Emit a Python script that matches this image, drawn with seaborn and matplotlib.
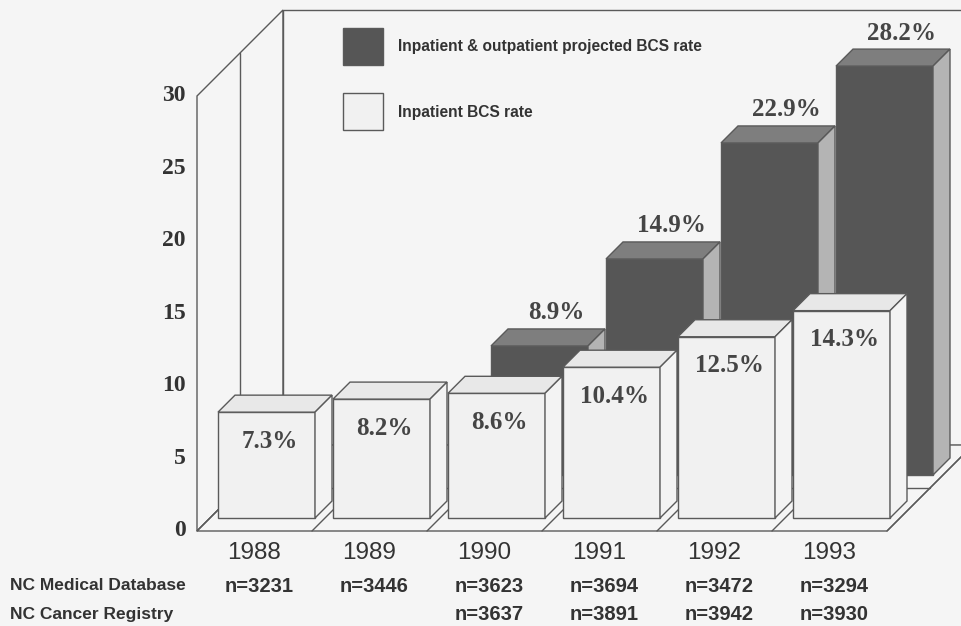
import numpy as np
import pandas as pd
import matplotlib
matplotlib.use("Agg")
import matplotlib.pyplot as plt
from matplotlib.patches import Polygon, Rectangle
from matplotlib.transforms import blended_transform_factory
import seaborn as sns

# --- DATA ---
years = ["1988", "1989", "1990", "1991", "1992", "1993"]
inpatient = [7.3, 8.2, 8.6, 10.4, 12.5, 14.3]
projected = [np.nan, np.nan, 8.9, 14.9, 22.9, 28.2]
n_medical = ["n=3231", "n=3446", "n=3623", "n=3694", "n=3472", "n=3294"]
n_registry = ["", "", "n=3637", "n=3891", "n=3942", "n=3930"]
y_ticks = [0, 5, 10, 15, 20, 25, 30]
row_labels = ["NC Medical Database", "NC Cancer Registry"]
legend_labels = ["Inpatient & outpatient projected BCS rate", "Inpatient BCS rate"]

df = pd.DataFrame({"year": years, "inpatient": inpatient, "projected": projected})

# --- LAYOUT (canvas pixels) ---
W, H = 962, 626
PX_X = 115.0      # pixels per year slot
PX_Y = 14.5       # pixels per percentage point
X0, Y0 = 197, 531 # floor front-left corner
ROW = 43          # depth of one row of boxes
BOX_OFF = 13      # box front face depth inside its row
BOX_D = 17        # box depth
BAR_W = 97 / PX_X
GAP = 8 / PX_X
YMAX = 30
ROW_Y = [586, 614]  # table rows

BG = "#f5f5f5"
EDGE = "#5a5a5a"
TXT = "#333333"
LIGHT = {"front": "#f1f1f1", "top": "#e8e8e8", "side": "#f3f3f3"}
DARK = {"front": "#565656", "top": "#7e7e7e", "side": "#b4b4b4"}

sns.set_style("white")
plt.rcParams["font.family"] = ["Liberation Sans", "DejaVu Sans"]

fig = plt.figure(figsize=(W / 100, H / 100), dpi=100, facecolor=BG)
ax = fig.add_axes([0, 0, 1, 1])
ax.set_facecolor(BG)


def P(x, v, d):
    """project (slot x, value, depth in px) to data coords"""
    return (x + d / PX_X, v + d / PX_Y)


def poly(pts, fc, z, lw=1.0):
    ax.add_patch(Polygon(pts, closed=True, facecolor=fc, edgecolor=EDGE,
                         linewidth=lw, zorder=z, joinstyle="miter"))


def line(p1, p2, z=1):
    ax.plot([p1[0], p2[0]], [p1[1], p2[1]], color=EDGE, lw=1.0, zorder=z)


n = len(years)
left, right = -0.5, n - 0.5
depth = 2 * ROW

# --- walls and floor ---
poly([P(left, 0, 0), P(left, YMAX, 0), P(left, YMAX, depth), P(left, 0, depth)], BG, 1)
poly([P(left, 0, depth), P(left, YMAX, depth), P(right + 1, YMAX, depth), P(right + 1, 0, depth)], BG, 1)
poly([P(left, 0, 0), P(right, 0, 0), P(right, 0, depth), P(left, 0, depth)], BG, 1)
line(P(left, 0, ROW), P(left, YMAX, ROW))
line(P(left, 0, ROW), P(right, 0, ROW))
for i in range(n + 1):
    line(P(i - 0.5, 0, 0), P(i - 0.5, 0, depth))


# --- boxes ---
def draw_row(values, row, colors, z):
    d0 = row * ROW + BOX_OFF
    centers = np.arange(n) - 0.5 + GAP + BAR_W / 2
    vals = np.asarray(values, dtype=float)
    mask = ~np.isnan(vals)
    xs = centers[mask] + d0 / PX_X
    vs = vals[mask]
    sns.barplot(x=xs, y=vs, native_scale=True, orient="x", width=BAR_W,
                bottom=d0 / PX_Y, color=colors["front"], saturation=1,
                edgecolor=EDGE, linewidth=1.0, errorbar=None, ax=ax, zorder=z)
    for c, v in zip(centers[mask], vs):
        xl, xr = c - BAR_W / 2, c + BAR_W / 2
        poly([P(xl, v, d0), P(xr, v, d0), P(xr, v, d0 + BOX_D), P(xl, v, d0 + BOX_D)],
             colors["top"], z)
        poly([P(xr, 0, d0), P(xr, v, d0), P(xr, v, d0 + BOX_D), P(xr, 0, d0 + BOX_D)],
             colors["side"], z)
    return centers[mask], vs, d0


bc, bv, bd = draw_row(projected, 1, DARK, 2)
fc, fv, fd = draw_row(inpatient, 0, LIGHT, 3)

# value labels
lab_kw = dict(textcoords="offset pixels", ha="center", va="center", fontsize=18,
              fontweight="bold", color="#454545", family="Liberation Serif", zorder=6)
for c, v in zip(bc, bv):
    ax.annotate(f"{v:.1f}%", xy=P(c, v, bd + BOX_D), xytext=(0, 16), **lab_kw)
for c, v in zip(fc, fv):
    ax.annotate(f"{v:.1f}%", xy=P(c, v, fd), xytext=(3, -29), **lab_kw)

# y axis labels on the front plane
for t in y_ticks:
    ax.annotate(str(t), xy=(left, t), xytext=(-11, 0), textcoords="offset pixels",
                ha="right", va="center", fontsize=17, fontweight="bold",
                color=TXT, family="Liberation Serif")

ax.set_xlim(left - X0 / PX_X, left + (W - X0) / PX_X)
ax.set_ylim(-(H - Y0) / PX_Y, Y0 / PX_Y)
ax.axis("off")

# --- year / count table ---
tr = blended_transform_factory(ax.transData, fig.transFigure)
for i, yr in enumerate(years):
    xl = i - 0.5 + GAP + (BOX_OFF + 9) / PX_X
    ax.text(xl, 1 - 553 / H, yr, transform=tr, ha="left", va="center",
            fontsize=17.5, color=TXT)
    for counts, ry in zip([n_medical, n_registry], ROW_Y):
        ax.text(xl - 2 / PX_X, 1 - ry / H, counts[i], transform=tr, ha="left",
                va="center", fontsize=14.5, fontweight="bold", color=TXT)
for lab, ry in zip(row_labels, ROW_Y):
    fig.text(10 / W, 1 - ry / H, lab, ha="left", va="center",
             fontsize=12.5, fontweight="bold", color=TXT)

# --- legend ---
for k, (lab, col) in enumerate(zip(legend_labels, [DARK["front"], LIGHT["front"]])):
    top = 28 + 65 * k
    fig.patches.append(Rectangle((343 / W, 1 - (top + 37) / H), 40 / W, 37 / H,
                                 transform=fig.transFigure, facecolor=col,
                                 edgecolor=EDGE, linewidth=1.0))
    fig.text(398 / W, 1 - (top + 19) / H, lab, ha="left", va="center",
             fontsize=11.2, fontweight="bold", color=TXT)

fig.savefig("out.png", dpi=100, facecolor=BG)
